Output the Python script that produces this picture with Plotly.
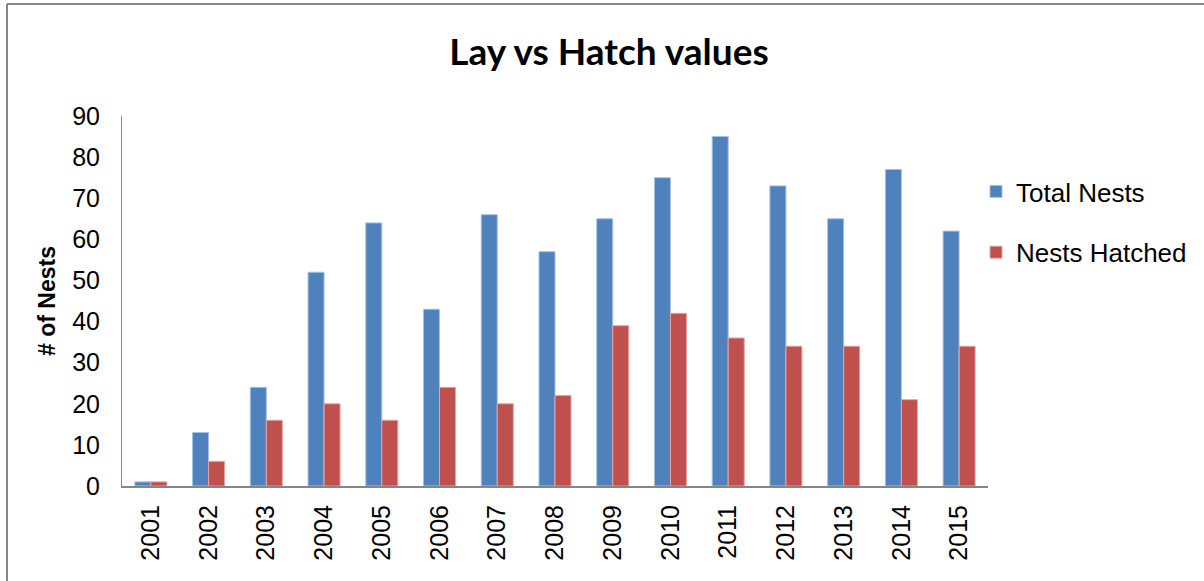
import plotly.graph_objects as go

years = ["2001", "2002", "2003", "2004", "2005", "2006", "2007", "2008",
         "2009", "2010", "2011", "2012", "2013", "2014", "2015"]
total_nests = [1, 13, 24, 52, 64, 43, 66, 57, 65, 75, 85, 73, 65, 77, 62]
nests_hatched = [1, 6, 16, 20, 16, 24, 20, 22, 39, 42, 36, 34, 34, 21, 34]

W, H = 1204, 581
L, R, T, B = 122, 216, 116, 95
pw, ph = W - L - R, H - T - B


def px(x):
    return (x - L) / pw


def py(y):
    return (H - B - y) / ph


fig = go.Figure()
fig.add_trace(go.Bar(
    x=years, y=total_nests, name="Total Nests", legendgroup="a",
    marker=dict(color="#4F81BD", line=dict(color="#A7C0E3", width=1)),
))
fig.add_trace(go.Bar(
    x=years, y=nests_hatched, name="Nests Hatched", legendgroup="b",
    marker=dict(color="#C0504D", line=dict(color="#E3A6A4", width=1)),
))

font_main = "Liberation Sans, Arial, sans-serif"

fig.update_layout(
    width=W, height=H,
    margin=dict(l=L, r=R, t=T, b=B, autoexpand=False),
    paper_bgcolor="white", plot_bgcolor="white",
    barmode="group", bargap=0.445, bargroupgap=0,
    title=dict(text="<b>Lay vs Hatch values</b>", x=609 / W, xanchor="center",
               y=1 - 52 / H, yanchor="middle",
               font=dict(family="Lato, Carlito, sans-serif", size=37, color="black")),
    font=dict(family=font_main, size=25, color="black"),
    legend=dict(x=px(976), xanchor="left", y=py(168), yanchor="top",
                traceorder="grouped", tracegroupgap=24,
                font=dict(family=font_main, size=26, color="black"),
                bgcolor="rgba(0,0,0,0)", itemwidth=30),
    xaxis=dict(type="category", tickangle=-90, showgrid=False, ticks="",
               showline=True, linecolor="#868686", linewidth=2,
               tickfont=dict(family=font_main, size=25, color="black"),
               ticklabelstandoff=7),
    yaxis=dict(range=[0, 90], dtick=10, showgrid=False, zeroline=False, ticks="",
               showline=True, linecolor="#868686", linewidth=1,
               tickfont=dict(family=font_main, size=25, color="black"),
               ticklabelstandoff=16,
               title=dict(text="<b># of Nests</b>", standoff=10,
                          font=dict(family=font_main, size=23, color="black"))),
    shapes=[
        dict(type="line", xref="paper", yref="paper",
             x0=px(7), x1=px(W + 5), y0=py(4), y1=py(4),
             line=dict(color="#868686", width=2)),
        dict(type="line", xref="paper", yref="paper",
             x0=px(7), x1=px(7), y0=py(4), y1=py(H + 5),
             line=dict(color="#868686", width=2)),
    ],
)

fig.write_html("out.html", config={"displayModeBar": False},
               post_script="document.body.style.margin='0';")
